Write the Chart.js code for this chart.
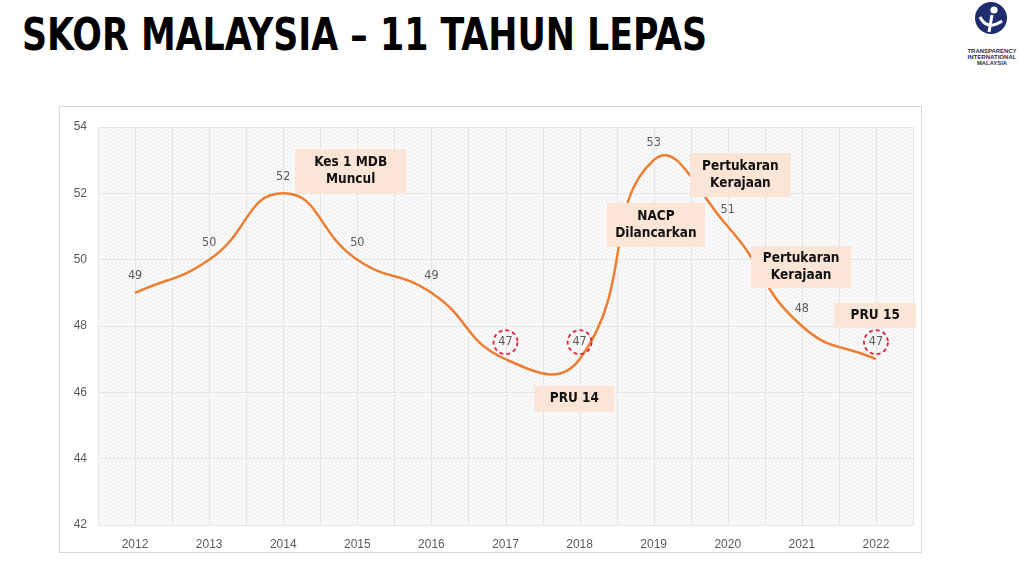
<!DOCTYPE html>
<html>
<head>
<meta charset="utf-8">
<script src="https://cdn.jsdelivr.net/npm/chart.js@4"></script>
<style>
	body{margin:0;width:1024px;height:576px;background:#fff;overflow:hidden;position:relative;}
	#title{position:absolute;left:22px;top:12px;font:bold 45px "DejaVu Sans Condensed","DejaVu Sans",sans-serif;line-height:45px;color:#000;white-space:nowrap;transform-origin:0 0;}
	#box{position:absolute;left:59px;top:106px;width:861px;height:445px;border:1px solid #d9d9d9;background:#fff;}
	#logo{position:absolute;left:960px;top:0;}
</style>
</head>
<body>
<div id="title">SKOR MALAYSIA – 11 TAHUN LEPAS</div>

<svg id="logo" width="64" height="72">
	<circle cx="31" cy="18" r="16" fill="#1f2d6e"/>
	<circle cx="34" cy="10" r="3.6" fill="#fff"/>
	<path d="M20 17 Q27 31 42 21" stroke="#fff" stroke-width="3" fill="none"/>
	<path d="M32 15 L29 32" stroke="#fff" stroke-width="3" fill="none"/>
	<g font-family="Liberation Sans, sans-serif" font-weight="bold" font-size="6" fill="#2a2f55" text-anchor="middle">
		<text x="32" y="53" textLength="49" lengthAdjust="spacingAndGlyphs">TRANSPARENCY</text>
		<text x="32" y="59" textLength="49" lengthAdjust="spacingAndGlyphs">INTERNATIONAL</text>
		<text x="32" y="65" textLength="30" lengthAdjust="spacingAndGlyphs">MALAYSIA</text>
	</g>
</svg>

<div id="box"><canvas id="skor_chart" width="861" height="445"></canvas></div>

<script>
// title squeezed to the width it has in the slide
const title = document.getElementById('title');
title.style.transform = `scaleX(${685 / title.getBoundingClientRect().width})`;

// data
const years = ['2012', '2013', '2014', '2015', '2016', '2017', '2018', '2019', '2020', '2021', '2022'];
const scores = [49, 50, 52, 50, 49, 47, 47, 53, 51, 48, 47];
const circled = [5, 6, 10]; // indexes of scores ringed in red
const noteTexts = [
	['Kes 1 MDB', 'Muncul'],
	['NACP', 'Dilancarkan'],
	['Pertukaran', 'Kerajaan'],
	['Pertukaran', 'Kerajaan'],
	['PRU 15'],
	['PRU 14']
];

// where the note boxes sit (centre in axis units, size in px)
const noteLayout = [
	{ i: 2.91, v: 52.67, w: 111, h: 44 },
	{ i: 7.03, v: 51.05, w: 98, h: 44 },
	{ i: 8.17, v: 52.55, w: 101, h: 44 },
	{ i: 8.99, v: 49.78, w: 100, h: 42 },
	{ i: 9.99, v: 48.32, w: 82, h: 25 },
	{ i: 5.93, v: 45.81, w: 80, h: 26 }
];

// hatched plot background + vertical grid lines
function makeHatch(ctx) {
	const p = document.createElement('canvas');
	p.width = 4; p.height = 4;
	const c = p.getContext('2d');
	c.fillStyle = '#fcfcfc';
	c.fillRect(0, 0, 4, 4);
	c.strokeStyle = '#e9e9e9';
	c.lineWidth = 1;
	c.beginPath();
	c.moveTo(0, 0); c.lineTo(4, 4);
	c.moveTo(-1, 3); c.lineTo(1, 5);
	c.moveTo(3, -1); c.lineTo(5, 1);
	c.stroke();
	return ctx.createPattern(p, 'repeat');
}

const backdrop = {
	id: 'backdrop',
	beforeDraw(chart) {
		const { ctx, chartArea: a, scales: { x } } = chart;
		ctx.save();
		ctx.fillStyle = makeHatch(ctx);
		ctx.fillRect(a.left, a.top, a.right - a.left, a.bottom - a.top);
		ctx.strokeStyle = '#e6e6e6';
		ctx.lineWidth = 1;
		ctx.beginPath();
		for (let k = -0.5; k <= years.length - 0.5; k += 0.5) {
			const px = Math.round(x.getPixelForValue(k)) + 0.5;
			ctx.moveTo(px, a.top);
			ctx.lineTo(px, a.bottom);
		}
		ctx.stroke();
		ctx.restore();
	}
};

const overlay = {
	id: 'overlay',
	afterDatasetsDraw(chart) {
		const { ctx, scales: { x, y } } = chart;
		ctx.save();

		// value labels
		ctx.font = '12.5px "DejaVu Sans Condensed", "DejaVu Sans", sans-serif';
		ctx.fillStyle = '#595959';
		ctx.textAlign = 'center';
		ctx.textBaseline = 'middle';
		scores.forEach((s, i) => {
			const px = x.getPixelForValue(i);
			const py = y.getPixelForValue(s) - 17;
			ctx.fillText(String(s), px, py);
			if (circled.includes(i)) {
				ctx.save();
				ctx.strokeStyle = '#e0263c';
				ctx.lineWidth = 1.8;
				ctx.setLineDash([4, 3]);
				ctx.beginPath();
				ctx.arc(px, py, 12, 0, Math.PI * 2);
				ctx.stroke();
				ctx.restore();
			}
		});

		// note boxes
		ctx.font = 'bold 13.5px "DejaVu Sans Condensed", "DejaVu Sans", sans-serif';
		noteLayout.forEach((n, k) => {
			const cx = x.getPixelForValue(n.i);
			const cy = y.getPixelForValue(n.v);
			ctx.fillStyle = '#fbe5d6';
			ctx.fillRect(cx - n.w / 2, cy - n.h / 2, n.w, n.h);
			ctx.fillStyle = '#111';
			const lines = noteTexts[k];
			lines.forEach((t, j) => {
				ctx.fillText(t, cx, cy + (j - (lines.length - 1) / 2) * 17);
			});
		});
		ctx.restore();
	}
};

new Chart(document.getElementById('skor_chart'), {
	type: 'line',
	data: {
		labels: years,
		datasets: [{
			label: 'Skor',
			data: scores,
			borderColor: '#ed7d31',
			borderWidth: 2.5,
			tension: 0.5,
			pointRadius: 0,
			fill: false
		}]
	},
	options: {
		responsive: false,
		animation: false,
		layout: { padding: { top: 20, right: 8, left: 0, bottom: 0 } },
		plugins: {
			legend: { display: false },
			tooltip: { enabled: false }
		},
		scales: {
			x: {
				offset: true,
				grid: { display: false, drawTicks: false },
				border: { display: false },
				ticks: {
					color: '#595959',
					font: { family: 'Liberation Sans', size: 12 },
					padding: 12,
					maxRotation: 0
				},
				afterFit(s) { s.height = 27; }
			},
			y: {
				min: 42,
				max: 54,
				grid: { color: '#e6e6e6', drawTicks: false },
				border: { display: false },
				ticks: {
					stepSize: 2,
					color: '#595959',
					font: { family: 'Liberation Sans', size: 12 },
					padding: 11
				},
				afterFit(s) { s.width = 38; }
			}
		}
	},
	plugins: [backdrop, overlay]
});
</script>
</body>
</html>
